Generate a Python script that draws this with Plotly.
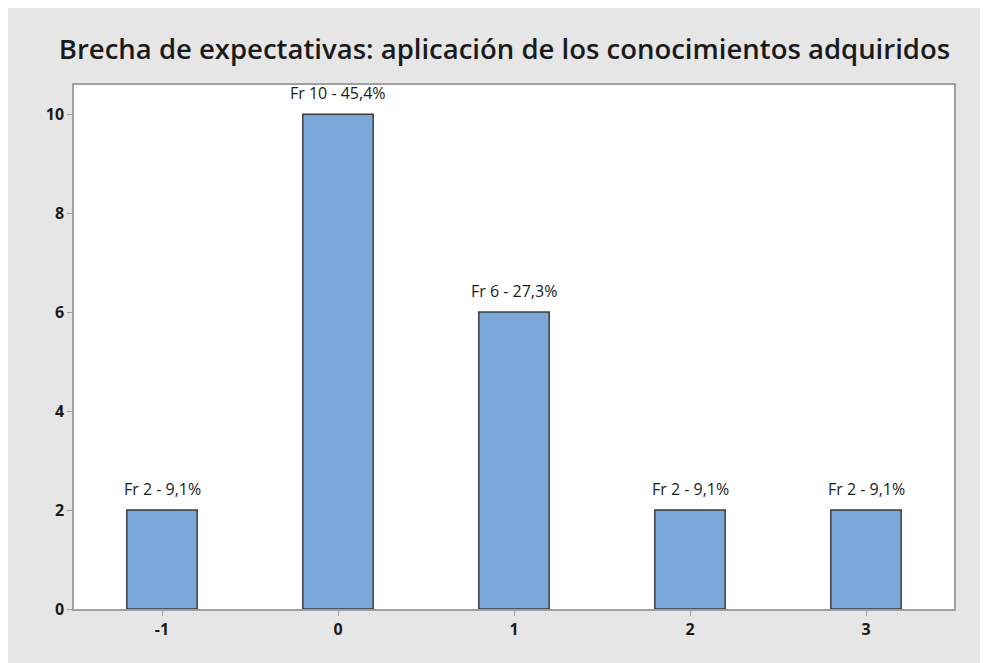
import plotly.graph_objects as go

categories = [-1, 0, 1, 2, 3]
frequencies = [2, 10, 6, 2, 2]
labels = ["Fr 2 - 9,1%", "Fr 10 - 45,4%", "Fr 6 - 27,3%", "Fr 2 - 9,1%", "Fr 2 - 9,1%"]
y_ticks = [0, 2, 4, 6, 8, 10]
title = "Brecha de expectativas: aplicación de los conocimientos adquiridos"

fig = go.Figure()
fig.add_trace(go.Bar(
    x=categories, y=frequencies, width=0.4,
    marker=dict(color="#7BA7D9", line=dict(color="#3c3c3c", width=1.5)),
    hoverinfo="x+y",
))
for c, v, t in zip(categories, frequencies, labels):
    fig.add_annotation(x=c, y=v, text=t, showarrow=False, yanchor="bottom", yshift=8,
                       font=dict(family="Open Sans", size=16, color="#1a1a1a"))

fig.update_layout(
    width=988, height=663,
    paper_bgcolor="#e6e6e6", plot_bgcolor="#ffffff",
    margin=dict(l=66, r=42, t=77, b=62),
    title=dict(text=title, x=0.5025, xanchor="center", y=0.937, yanchor="middle",
               font=dict(family="Open Sans", size=27.5, weight=600, color="#1a1a1a")),
    showlegend=False,
    xaxis=dict(range=[-1.5, 3.5], tickvals=categories, ticktext=["<b>%d</b>" % c for c in categories],
               ticks="outside", ticklen=5, tickcolor="#a0a0a0", showgrid=False, zeroline=False,
               showline=True, linecolor="#a0a0a0", linewidth=1.5, mirror=True,
               tickfont=dict(family="Open Sans", size=16, color="#1a1a1a")),
    yaxis=dict(range=[0, 10.59], tickvals=y_ticks, ticktext=["<b>%d</b>" % v for v in y_ticks],
               ticks="outside", ticklen=5, tickcolor="#a0a0a0", showgrid=False, zeroline=False,
               showline=True, linecolor="#a0a0a0", linewidth=1.5, mirror=True,
               tickfont=dict(family="Open Sans", size=16, color="#1a1a1a")),
)
fig.write_html("out.html")
